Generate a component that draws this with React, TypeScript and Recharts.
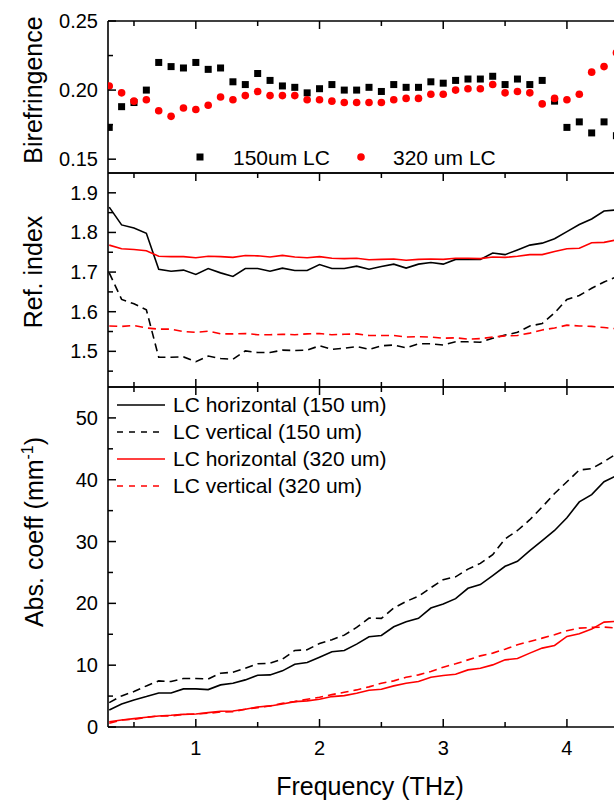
import React from "react";
import { ComposedChart, Line, Scatter, XAxis, YAxis, Legend } from "recharts";

// frequency grid (THz)
const FREQ = [
  0.3, 0.4, 0.5, 0.6, 0.7, 0.8, 0.9, 1.0, 1.1, 1.2, 1.3, 1.4, 1.5, 1.6, 1.7, 1.8, 1.9, 2.0, 2.1, 2.2, 2.3,
  2.4, 2.5, 2.6, 2.7, 2.8, 2.9, 3.0, 3.1, 3.2, 3.3, 3.4, 3.5, 3.6, 3.7, 3.8, 3.9, 4.0, 4.1, 4.2, 4.3, 4.4,
];

// birefringence
const BIREF_150 = [
  0.173, 0.188, 0.191, 0.2, 0.22, 0.217, 0.216, 0.22, 0.215, 0.216, 0.206, 0.204, 0.212, 0.207, 0.203, 0.202,
  0.198, 0.201, 0.204, 0.2, 0.2, 0.202, 0.199, 0.204, 0.202, 0.202, 0.206, 0.205, 0.207, 0.208, 0.208, 0.21,
  0.204, 0.208, 0.204, 0.207, 0.192, 0.173, 0.177, 0.169, 0.177, 0.167,
];
const BIREF_320 = [
  0.203, 0.198, 0.192, 0.193, 0.185, 0.181, 0.187, 0.186, 0.189, 0.195, 0.193, 0.196, 0.199, 0.196, 0.196, 0.196,
  0.193, 0.193, 0.192, 0.191, 0.191, 0.191, 0.191, 0.193, 0.194, 0.194, 0.197, 0.197, 0.2, 0.201, 0.201, 0.204,
  0.198, 0.199, 0.198, 0.19, 0.194, 0.193, 0.197, 0.213, 0.217, 0.227,
];

// refractive index
const N_H150 = [
  1.864, 1.819, 1.811, 1.798, 1.707, 1.702, 1.705, 1.694, 1.709, 1.698, 1.689, 1.709, 1.709, 1.702, 1.71, 1.704,
  1.704, 1.719, 1.709, 1.709, 1.715, 1.707, 1.714, 1.72, 1.71, 1.72, 1.724, 1.72, 1.732, 1.732, 1.732, 1.748,
  1.744, 1.756, 1.768, 1.773, 1.784, 1.802, 1.82, 1.834, 1.854, 1.857,
];
const N_V150 = [
  1.698, 1.631, 1.62, 1.605, 1.485, 1.485, 1.486, 1.474, 1.488, 1.482, 1.48, 1.501, 1.497, 1.497, 1.503, 1.502,
  1.503, 1.514, 1.505, 1.508, 1.512, 1.505, 1.514, 1.516, 1.509, 1.519, 1.519, 1.516, 1.524, 1.524, 1.523, 1.533,
  1.541, 1.548, 1.564, 1.57, 1.597, 1.631, 1.641, 1.659, 1.675, 1.688,
];
const N_H320 = [
  1.768, 1.759, 1.757, 1.754, 1.74, 1.739, 1.739, 1.736, 1.74, 1.739, 1.737, 1.742, 1.741, 1.738, 1.742, 1.738,
  1.736, 1.739, 1.735, 1.734, 1.735, 1.731, 1.732, 1.733, 1.73, 1.732, 1.733, 1.732, 1.735, 1.735, 1.734, 1.738,
  1.737, 1.74, 1.744, 1.744, 1.752, 1.759, 1.76, 1.774, 1.775, 1.781,
];
const N_V320 = [
  1.564, 1.563, 1.565, 1.559, 1.556, 1.556, 1.55, 1.548, 1.551, 1.544, 1.544, 1.545, 1.542, 1.542, 1.543, 1.542,
  1.544, 1.545, 1.542, 1.543, 1.544, 1.54, 1.54, 1.54, 1.536, 1.537, 1.536, 1.533, 1.534, 1.531, 1.532, 1.536,
  1.539, 1.54, 1.546, 1.554, 1.559, 1.566, 1.564, 1.563, 1.56, 1.557,
];

// absorption coefficient (mm^-1)
const A_H150 = [
  2.76, 3.73, 4.38, 4.92, 5.51, 5.51, 6.16, 6.16, 6.05, 6.81, 7.08, 7.62, 8.38, 8.43, 9.08, 10.16, 10.43, 11.3,
  12.16, 12.38, 13.41, 14.59, 14.81, 16.22, 17.03, 17.57, 19.24, 19.89, 20.76, 22.43, 23.03, 24.49, 26.0, 26.81,
  28.53, 30.16, 31.79, 33.86, 36.41, 37.6, 39.67, 40.65,
];
const A_V150 = [
  3.95, 5.03, 5.73, 6.65, 7.46, 7.35, 7.84, 7.84, 7.78, 8.7, 8.86, 9.51, 10.22, 10.32, 10.97, 12.38, 12.49, 13.51,
  14.11, 14.86, 16.11, 17.62, 17.57, 19.24, 20.32, 21.14, 22.54, 23.84, 24.29, 25.54, 26.47, 27.88, 30.43, 31.79,
  33.53, 35.6, 37.77, 39.67, 41.58, 41.79, 42.93, 44.18,
];
const A_H320 = [
  0.86, 1.14, 1.35, 1.57, 1.78, 1.89, 2.05, 2.11, 2.32, 2.54, 2.59, 2.86, 3.24, 3.41, 3.73, 4.11, 4.22, 4.49, 4.92,
  5.08, 5.46, 5.95, 6.11, 6.65, 7.08, 7.35, 8.05, 8.32, 8.54, 9.24, 9.51, 10.05, 10.86, 11.08, 11.95, 12.76, 13.19,
  14.65, 15.08, 15.84, 16.97, 17.08,
];
const A_V320 = [
  0.59, 1.14, 1.24, 1.57, 1.78, 1.78, 2.05, 2.11, 2.22, 2.43, 2.49, 2.86, 3.14, 3.41, 3.84, 4.11, 4.49, 4.81, 5.24,
  5.62, 6.0, 6.49, 7.08, 7.46, 8.05, 8.43, 8.97, 9.68, 10.22, 10.86, 11.51, 11.95, 12.59, 13.3, 13.84, 14.38,
  14.92, 15.57, 16.0, 16.11, 16.16, 16.0,
];

// ticks
const X_TICKS = [0.5, 1, 1.5, 2, 2.5, 3, 3.5, 4];
const X_LABELS = ["", "1", "", "2", "", "3", "", "4"];
const BIREF_TICKS = [0.15, 0.175, 0.2, 0.225, 0.25];
const BIREF_LABELS = ["0.15", "", "0.20", "", "0.25"];
const N_TICKS = [1.45, 1.5, 1.55, 1.6, 1.65, 1.7, 1.75, 1.8, 1.85, 1.9];
const N_LABELS = ["", "1.5", "", "1.6", "", "1.7", "", "1.8", "", "1.9"];
const A_TICKS = [0, 5, 10, 15, 20, 25, 30, 35, 40, 45, 50];
const A_LABELS = ["0", "", "10", "", "20", "", "30", "", "40", "", "50"];

const BIREF_NAMES = ["150um LC", "320 um LC"];
const LINE_NAMES = ["LC horizontal (150 um)", "LC vertical (150 um)", "LC horizontal (320 um)", "LC vertical (320 um)"];

const W = 620;
const H = 802;
const FONT = "'Liberation Sans', Arial, Helvetica, sans-serif";
const RED = "#ff0000";
const X_DOMAIN = [0.29, 4.429];
const DASH = "8 5";

const birefData = FREQ.map((f, i) => ({ f, a: BIREF_150[i], b: BIREF_320[i] }));
const nData = FREQ.map((f, i) => ({ f, h150: N_H150[i], v150: N_V150[i], h320: N_H320[i], v320: N_V320[i] }));
const aData = FREQ.map((f, i) => ({ f, h150: A_H150[i], v150: A_V150[i], h320: A_H320[i], v320: A_V320[i] }));

const axisStyle = { stroke: "#000", strokeWidth: 1.6 };

const yTick = (ticks: number[], labels: string[]) => (p: any) => {
  const v = p.payload.value;
  const idx = ticks.findIndex((t) => Math.abs(t - v) < 1e-9);
  const lab = idx >= 0 ? labels[idx] : "";
  const len = lab ? 8 : 5;
  return (
    <g>
      <line x1={p.x} y1={p.y} x2={p.x + len} y2={p.y} stroke="#000" strokeWidth={1.5} />
      {lab && (
        <text x={p.x - 10} y={p.y} dy={7} textAnchor="end" fontSize={20} fontFamily={FONT} fill="#000">
          {lab}
        </text>
      )}
    </g>
  );
};

const xTick = (side: "top" | "bottom", showLabels: boolean) => (p: any) => {
  const v = p.payload.value;
  const idx = X_TICKS.findIndex((t) => Math.abs(t - v) < 1e-9);
  const lab = idx >= 0 ? X_LABELS[idx] : "";
  const len = lab ? 8 : 5;
  const dir = side === "top" ? 1 : -1;
  return (
    <g>
      <line x1={p.x} y1={p.y} x2={p.x} y2={p.y + dir * len} stroke="#000" strokeWidth={1.5} />
      {showLabels && lab && (
        <text x={p.x} y={p.y + 28} textAnchor="middle" fontSize={20} fontFamily={FONT} fill="#000">
          {lab}
        </text>
      )}
    </g>
  );
};

const yTitle = (cx: number, cy: number, text: React.ReactNode) => () => (
  <text
    x={cx}
    y={cy}
    transform={`rotate(-90 ${cx} ${cy})`}
    textAnchor="middle"
    fontSize={25}
    fontFamily={FONT}
    fill="#000"
  >
    {text}
  </text>
);

const BirefLegend = () => (
  <svg width={W} height={H} style={{ display: "block" }}>
    <rect x={196.5} y={153.5} width={7} height={7} fill="#000" />
    <text x={233} y={165} fontSize={21} fontFamily={FONT}>{BIREF_NAMES[0]}</text>
    <circle cx={361} cy={157} r={3.8} fill={RED} />
    <text x={393} y={165} fontSize={21} fontFamily={FONT}>{BIREF_NAMES[1]}</text>
  </svg>
);

const LINE_STYLES = [
  { color: "#000", dash: undefined },
  { color: "#000", dash: "6 6" },
  { color: RED, dash: undefined },
  { color: RED, dash: "6 6" },
];

const AbsLegend = () => (
  <svg width={W} height={H} style={{ display: "block" }}>
    {LINE_NAMES.map((name, i) => {
      const base = 412 + i * 27;
      return (
        <g key={name}>
          <line
            x1={117}
            x2={165}
            y1={base - 7}
            y2={base - 7}
            stroke={LINE_STYLES[i].color}
            strokeWidth={1.6}
            strokeDasharray={LINE_STYLES[i].dash}
          />
          <text x={173} y={base} fontSize={21} fontFamily={FONT} fill="#000">
            {name}
          </text>
        </g>
      );
    })}
  </svg>
);

const legendProps = {
  layout: "vertical" as const,
  align: "center" as const,
  verticalAlign: "middle" as const,
  wrapperStyle: { left: 0, top: 0, width: W, height: H },
};

const layer: React.CSSProperties = { position: "absolute", left: 0, top: 0 };

// axis boxes are 1px tall (a 0-height axis is not drawn), so margins are 1px less
const margins = (top: number, bottom: number) => ({ top: top - 1, bottom: H - bottom - 1, left: 0, right: 0 });

export default function App() {
  return (
    <div style={{ position: "absolute", left: 0, top: 0, width: 614, height: 802, overflow: "hidden", background: "#fff" }}>
      {/* panel 1: birefringence */}
      <div style={layer}>
        <ComposedChart width={W} height={H} data={birefData} margin={margins(21, 173)}>
          <XAxis dataKey="f" type="number" domain={X_DOMAIN} allowDataOverflow ticks={X_TICKS} height={1}
            tick={false} tickLine={false} axisLine={axisStyle} />
          <XAxis xAxisId="top" orientation="top" dataKey="f" type="number" domain={X_DOMAIN} allowDataOverflow
            ticks={X_TICKS} interval={0} height={1} tickSize={0} tickMargin={0} tickLine={false}
            tick={xTick("top", false)} axisLine={axisStyle} />
          <YAxis type="number" domain={[0.14, 0.25]} allowDataOverflow ticks={BIREF_TICKS} interval={0} width={108}
            tickSize={0} tickMargin={0} tickLine={false} tick={yTick(BIREF_TICKS, BIREF_LABELS)} axisLine={axisStyle}
            label={yTitle(42, 90, "Birefringence")} />
          <Scatter name={BIREF_NAMES[0]} dataKey="a" fill="#000" isAnimationActive={false}
            shape={(p: any) => <rect x={p.cx - 3.5} y={p.cy - 3.5} width={7} height={7} fill="#000" />} />
          <Scatter name={BIREF_NAMES[1]} dataKey="b" fill={RED} isAnimationActive={false}
            shape={(p: any) => <circle cx={p.cx} cy={p.cy} r={3.8} fill={RED} />} />
          <Legend {...legendProps} content={BirefLegend} />
        </ComposedChart>
      </div>

      {/* panel 2: refractive index */}
      <div style={layer}>
        <ComposedChart width={W} height={H} data={nData} margin={margins(173, 387)}>
          <XAxis dataKey="f" type="number" domain={X_DOMAIN} allowDataOverflow ticks={X_TICKS} interval={0}
            height={1} tickSize={0} tickMargin={0} tickLine={false} tick={xTick("bottom", false)} axisLine={axisStyle} />
          <XAxis xAxisId="top" orientation="top" dataKey="f" type="number" domain={X_DOMAIN} allowDataOverflow
            ticks={X_TICKS} interval={0} height={1} tickSize={0} tickMargin={0} tickLine={false}
            tick={xTick("top", false)} axisLine={axisStyle} />
          <YAxis type="number" domain={[1.41, 1.95]} allowDataOverflow ticks={N_TICKS} interval={0} width={108}
            tickSize={0} tickMargin={0} tickLine={false} tick={yTick(N_TICKS, N_LABELS)} axisLine={axisStyle}
            label={yTitle(42, 272, "Ref. index")} />
          <Line dataKey="h150" stroke="#000" strokeWidth={1.6} dot={false} isAnimationActive={false} />
          <Line dataKey="v150" stroke="#000" strokeWidth={1.6} strokeDasharray={DASH} dot={false} isAnimationActive={false} />
          <Line dataKey="h320" stroke={RED} strokeWidth={1.6} dot={false} isAnimationActive={false} />
          <Line dataKey="v320" stroke={RED} strokeWidth={1.6} strokeDasharray={DASH} dot={false} isAnimationActive={false} />
        </ComposedChart>
      </div>

      {/* panel 3: absorption */}
      <div style={layer}>
        <ComposedChart width={W} height={H} data={aData} margin={margins(387, 727)}>
          <XAxis dataKey="f" type="number" domain={X_DOMAIN} allowDataOverflow ticks={X_TICKS} interval={0}
            height={1} tickSize={0} tickMargin={0} tickLine={false} tick={xTick("bottom", true)} axisLine={axisStyle}
            label={() => (
              <text x={370} y={795} textAnchor="middle" fontSize={25} fontFamily={FONT} fill="#000">
                Frequency (THz)
              </text>
            )} />
          <XAxis xAxisId="top" orientation="top" dataKey="f" type="number" domain={X_DOMAIN} allowDataOverflow
            ticks={X_TICKS} interval={0} height={1} tickSize={0} tickMargin={0} tickLine={false}
            tick={xTick("top", false)} axisLine={axisStyle} />
          <YAxis type="number" domain={[0, 55]} allowDataOverflow ticks={A_TICKS} interval={0} width={108}
            tickSize={0} tickMargin={0} tickLine={false} tick={yTick(A_TICKS, A_LABELS)} axisLine={axisStyle}
            label={yTitle(43, 532, (
              <>
                Abs. coeff (mm
                <tspan fontSize={16} dy={-10}>-1</tspan>
                <tspan dy={10}>)</tspan>
              </>
            ))} />
          <Line dataKey="h150" stroke="#000" strokeWidth={1.6} dot={false} isAnimationActive={false} />
          <Line dataKey="v150" stroke="#000" strokeWidth={1.6} strokeDasharray={DASH} dot={false} isAnimationActive={false} />
          <Line dataKey="h320" stroke={RED} strokeWidth={1.6} dot={false} isAnimationActive={false} />
          <Line dataKey="v320" stroke={RED} strokeWidth={1.6} strokeDasharray={DASH} dot={false} isAnimationActive={false} />
          <Legend {...legendProps} content={AbsLegend} />
        </ComposedChart>
      </div>
    </div>
  );
}
